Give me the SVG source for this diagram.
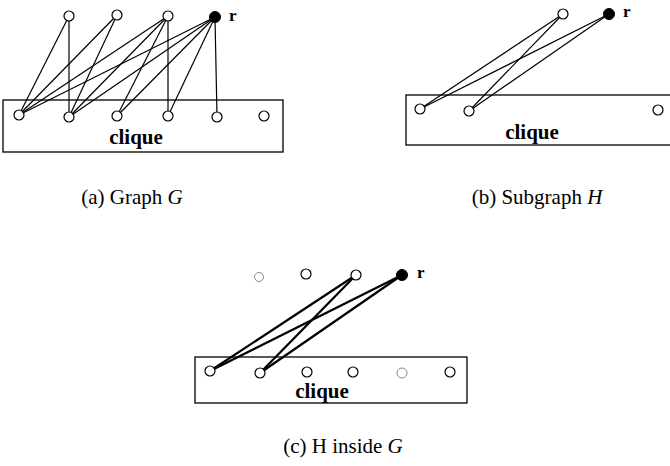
<svg xmlns="http://www.w3.org/2000/svg" width="670" height="466" viewBox="0 0 670 466">
<style>
.box{fill:none;stroke:#000;stroke-width:1.3}
.n{fill:#fff;stroke:#000;stroke-width:1.2}
.nf{fill:#fff;stroke:#888;stroke-width:1}
.r{fill:#000;stroke:#000;stroke-width:1}
.e{stroke:#000;stroke-width:1.2;fill:none}
.et{stroke:#000;stroke-width:2.2;fill:none}
.cl{font-family:"Liberation Serif",serif;font-weight:bold;font-size:21px;text-anchor:middle}
.rl{font-family:"Liberation Serif",serif;font-weight:bold;font-size:17px}
.cap{font-family:"Liberation Serif",serif;font-size:21px;text-anchor:middle}
</style>
<rect width="670" height="466" fill="#fff"/>
<g id="connectors">
<g id="edges-a">
<line class="e" x1="69" y1="16" x2="19" y2="115"/>
<line class="e" x1="69" y1="16" x2="69" y2="117"/>
<line class="e" x1="117" y1="15" x2="19" y2="115"/>
<line class="e" x1="117" y1="15" x2="69" y2="117"/>
<line class="e" x1="168" y1="16" x2="19" y2="115"/>
<line class="e" x1="168" y1="16" x2="69" y2="117"/>
<line class="e" x1="168" y1="16" x2="117" y2="116"/>
<line class="e" x1="168" y1="16" x2="168" y2="116"/>
<line class="e" x1="215" y1="17" x2="19" y2="115"/>
<line class="e" x1="215" y1="17" x2="69" y2="117"/>
<line class="e" x1="215" y1="17" x2="117" y2="116"/>
<line class="e" x1="215" y1="17" x2="168" y2="116"/>
<line class="e" x1="215" y1="17" x2="217" y2="117"/>
</g>
<g id="edges-b">
<line class="e" x1="563" y1="14" x2="420" y2="109"/>
<line class="e" x1="563" y1="14" x2="469" y2="111"/>
<line class="e" x1="609" y1="14" x2="420" y2="109"/>
<line class="e" x1="609" y1="14" x2="469" y2="111"/>
</g>
<g id="edges-c">
<line class="et" x1="356" y1="275" x2="210" y2="371"/>
<line class="et" x1="356" y1="275" x2="260" y2="373"/>
<line class="et" x1="402" y1="275" x2="210" y2="371"/>
<line class="et" x1="402" y1="275" x2="260" y2="373"/>
</g>
</g>
<g id="panel-a">
<rect id="clique-a" class="box" x="3" y="100" width="280" height="52"/>
<text class="cl" x="136" y="144">clique</text>
<g id="a-t1"><circle class="n" cx="69" cy="16" r="5"/></g>
<g id="a-t2"><circle class="n" cx="117" cy="15" r="5"/></g>
<g id="a-t3"><circle class="n" cx="168" cy="16" r="5"/></g>
<g id="a-r"><circle class="r" cx="215" cy="17" r="5.5"/><text class="rl" x="229" y="21">r</text></g>
<g id="a-b1"><circle class="n" cx="19" cy="115" r="5"/></g>
<g id="a-b2"><circle class="n" cx="69" cy="117" r="5"/></g>
<g id="a-b3"><circle class="n" cx="117" cy="116" r="5"/></g>
<g id="a-b4"><circle class="n" cx="168" cy="116" r="5"/></g>
<g id="a-b5"><circle class="n" cx="217" cy="117" r="5"/></g>
<g id="a-b6"><circle class="n" cx="264" cy="116" r="5"/></g>
</g>
<g id="panel-b">
<rect id="clique-b" class="box" x="406" y="95" width="270" height="50"/>
<text class="cl" x="532" y="139">clique</text>
<g id="b-t3"><circle class="n" cx="563" cy="14" r="5"/></g>
<g id="b-r"><circle class="r" cx="609" cy="14" r="5.5"/><text class="rl" x="623" y="17">r</text></g>
<g id="b-b1"><circle class="n" cx="420" cy="109" r="5"/></g>
<g id="b-b2"><circle class="n" cx="469" cy="111" r="5"/></g>
<g id="b-b6"><circle class="n" cx="658" cy="110" r="5"/></g>
</g>
<g id="panel-c">
<rect id="clique-c" class="box" x="195" y="357" width="272" height="46"/>
<text class="cl" x="322" y="398">clique</text>
<g id="c-t1"><circle class="nf" cx="259" cy="277" r="4.5"/></g>
<g id="c-t2"><circle class="n" cx="306" cy="274" r="5"/></g>
<g id="c-t3"><circle class="n" cx="356" cy="275" r="5"/></g>
<g id="c-r"><circle class="r" cx="402" cy="275" r="5.5"/><text class="rl" x="417" y="278">r</text></g>
<g id="c-b1"><circle class="n" cx="210" cy="371" r="5"/></g>
<g id="c-b2"><circle class="n" cx="260" cy="373" r="5"/></g>
<g id="c-b3"><circle class="n" cx="307" cy="372" r="5"/></g>
<g id="c-b4"><circle class="n" cx="353" cy="372" r="5"/></g>
<g id="c-b5"><circle class="nf" cx="402" cy="373" r="5"/></g>
<g id="c-b6"><circle class="n" cx="450" cy="372" r="5"/></g>
</g>
<g id="captions">
<text class="cap" x="132" y="204">(a) Graph <tspan font-style="italic">G</tspan></text>
<text class="cap" x="537" y="204">(b) Subgraph <tspan font-style="italic">H</tspan></text>
<text class="cap" x="343" y="453">(c) H inside <tspan font-style="italic">G</tspan></text>
</g>
</svg>
